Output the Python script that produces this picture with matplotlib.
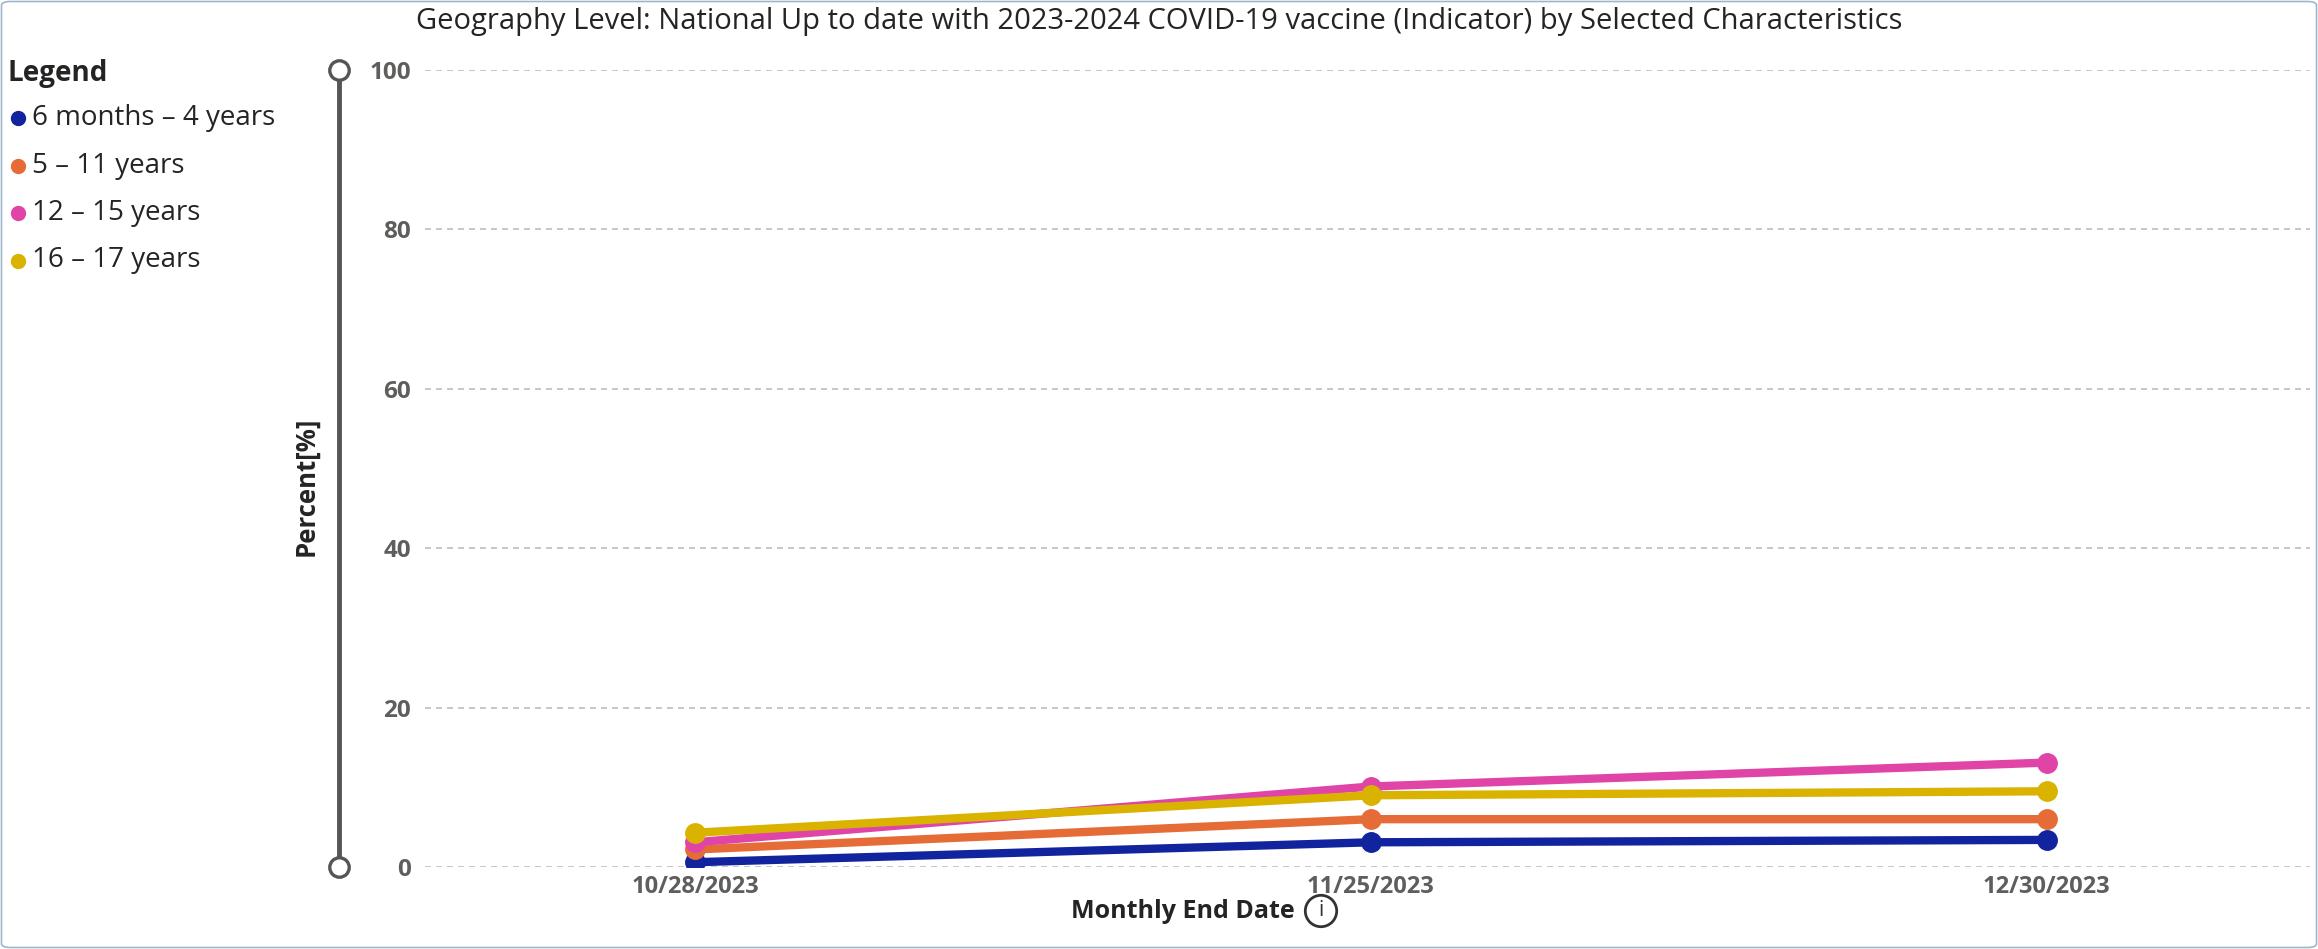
import matplotlib
matplotlib.use("Agg")
import matplotlib.pyplot as plt
from matplotlib.lines import Line2D
from matplotlib.patches import FancyBboxPatch
from matplotlib.transforms import blended_transform_factory

# data
dates = ["10/28/2023", "11/25/2023", "12/30/2023"]
groups = ["6 months \u2013 4 years", "5 \u2013 11 years", "12 \u2013 15 years", "16 \u2013 17 years"]
colors = ["#12239E", "#E66C37", "#E044A7", "#D9B300"]
v_6m_4y = [0.6, 3.1, 3.4]
v_5_11 = [2.2, 6.0, 6.0]
v_12_15 = [3.1, 10.1, 13.1]
v_16_17 = [4.3, 9.0, 9.5]
series = [v_6m_4y, v_5_11, v_12_15, v_16_17]
yticks = [0, 20, 40, 60, 80, 100]

W, H = 2318, 949
plt.rcParams["font.family"] = ["Open Sans", "DejaVu Sans"]

fig = plt.figure(figsize=(W / 100, H / 100), dpi=100)
fig.patch.set_facecolor("white")
fig.add_artist(FancyBboxPatch((1.5 / W, 1.5 / H), 1 - 3 / W, 1 - 3 / H,
                              boxstyle="round,pad=0,rounding_size=0.004",
                              transform=fig.transFigure, fc="none",
                              ec="#9FB6CD", lw=1.2))

ax = fig.add_axes([425 / W, 1 - 867 / H, (2310 - 425) / W, (867 - 70) / H])
for s in ax.spines.values():
    s.set_visible(False)
ax.set_ylim(0, 100)
ax.set_yticks(yticks)
ax.grid(axis="y", color="#BFBDBB", lw=1.2, ls=(0, (3.6, 3.0)))
ax.set_axisbelow(True)

for vals, c in zip(series, colors):
    ax.plot(dates, vals, color=c, lw=6, marker="o", ms=14,
            solid_capstyle="round", zorder=3)
ax.set_xlim(-0.4, 2.39)

ax.tick_params(axis="both", length=0, labelcolor="#605E5C", labelsize=17)
ax.tick_params(axis="y", labelsize=17.5, pad=10)
ax.tick_params(axis="x", pad=6)
for lab in ax.get_xticklabels() + ax.get_yticklabels():
    lab.set_fontweight("bold")

# slider-like y axis bar
tr = blended_transform_factory(fig.transFigure, ax.transData)
xb = 339 / W
ax.plot([xb, xb], [0, 100], transform=tr, color="#555555", lw=3.5,
        clip_on=False, zorder=1)
ax.plot([xb, xb], [0, 100], transform=tr, ls="none", marker="o", ms=14,
        mfc="white", mec="#555555", mew=2.4, clip_on=False, zorder=2)

fig.text(306 / W, 1 - 486 / H, "Percent[%]", rotation=90, ha="center",
         va="center", fontsize=18.5, fontweight="bold", color="#252423")
fig.text(1183 / W, 1 - 912 / H, "Monthly End Date", ha="center", va="center",
         fontsize=18, fontweight="bold", color="#252423")
fig.text(1321 / W, 1 - 911 / H, "i", ha="center", va="center", fontsize=15,
         color="#333333",
         bbox=dict(boxstyle="circle,pad=0.25", fc="white", ec="#333333", lw=2))

fig.text(0.5, 1 - 22 / H,
         "Geography Level: National Up to date with 2023-2024 COVID-19 vaccine "
         "(Indicator) by Selected Characteristics",
         ha="center", va="center", fontsize=21, color="#252423")

# legend
fig.text(7 / W, 1 - 74 / H, "Legend", ha="left", va="center", fontsize=20,
         fontweight="bold", color="#252423")
for i, (name, c) in enumerate(zip(groups, colors)):
    y = 1 - (118 + i * 47.5) / H
    fig.add_artist(Line2D([18 / W], [y], transform=fig.transFigure, ls="none",
                          marker="o", ms=10, color=c))
    fig.text(32 / W, y, name, ha="left", va="center", fontsize=20,
             color="#252423")

fig.savefig("out.png", dpi=100)
